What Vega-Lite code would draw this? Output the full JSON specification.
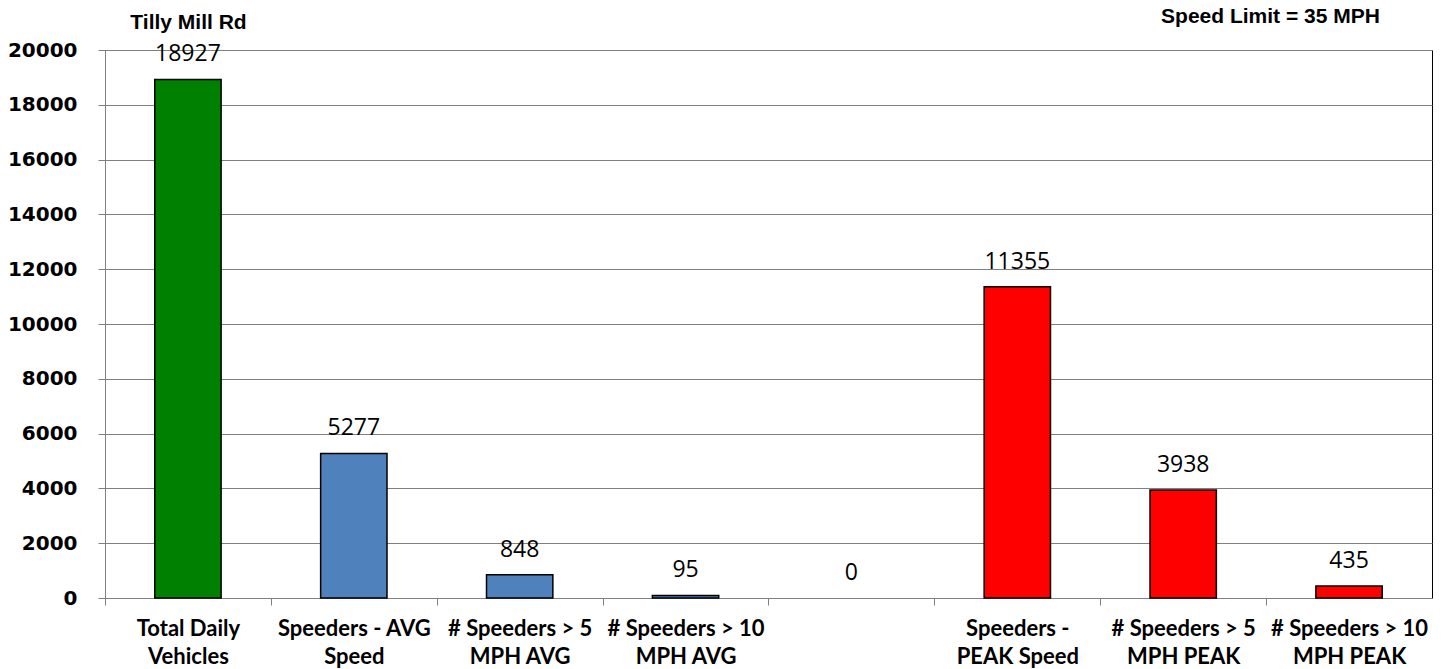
{
  "$schema": "https://vega.github.io/schema/vega-lite/v6.json",
  "autosize": "none",
  "width": 1327,
  "height": 548,
  "padding": {"left": 105, "top": 50, "right": 15, "bottom": 71},
  "background": "white",
  "config": {"view": {"stroke": "#000000", "strokeWidth": 1}},
  "data": {"values": [
    {"cat": "Total Daily|Vehicles", "value": 18927, "grp": "total"},
    {"cat": "Speeders - AVG|Speed", "value": 5277, "grp": "avg"},
    {"cat": "# Speeders > 5|MPH AVG", "value": 848, "grp": "avg"},
    {"cat": "# Speeders > 10|MPH AVG", "value": 95, "grp": "avg"},
    {"cat": "gap", "value": 0, "grp": "none"},
    {"cat": "Speeders -|PEAK Speed", "value": 11355, "grp": "peak"},
    {"cat": "# Speeders > 5|MPH PEAK", "value": 3938, "grp": "peak"},
    {"cat": "# Speeders > 10|MPH PEAK", "value": 435, "grp": "peak"}
  ]},
  "resolve": {"axis": {"y": "independent"}},
  "encoding": {
    "x": {"field": "cat", "type": "nominal", "sort": null,
      "scale": {"paddingInner": 0.6, "paddingOuter": 0.3},
      "axis": {"title": null, "labelAngle": 0,
        "labelExpr": "isString(datum.value) && datum.value != 'gap' ? split(datum.value, '|') : ''",
        "labelFont": "Lato", "labelFontWeight": "bold", "labelFontSize": 22, "labelColor": "#000000",
        "labelLineHeight": 28, "labelPadding": 30, "labelBaseline": "alphabetic",
        "tickOffset": -83, "labelOffset": 83,
        "tickSize": 7, "tickColor": "#808080", "domainColor": "#808080", "grid": false}}
  },
  "layer": [
    {"mark": {"type": "bar", "stroke": "#000000", "strokeWidth": 1.5},
     "encoding": {
       "y": {"field": "value", "type": "quantitative",
         "scale": {"domain": [0, 20000]},
         "axis": {"values": [0,2000,4000,6000,8000,10000,12000,14000,16000,18000,20000],
           "format": "d", "labelFont": "DejaVu Sans", "labelFontWeight": "bold", "labelFontSize": 20,
           "labelColor": "#000000", "labelPadding": 21, "tickSize": 7, "tickColor": "#808080",
           "domainColor": "#808080", "gridColor": "#808080", "gridWidth": 1,
           "title": "Tilly Mill Rd", "titleAngle": 0, "titleX": 83, "titleY": -28,
           "titleAlign": "center", "titleBaseline": "middle", "titleFont": "Liberation Sans",
           "titleFontSize": 21, "titleFontWeight": "bold", "titleColor": "#000000"}},
       "color": {"field": "grp", "type": "nominal", "legend": null,
         "scale": {"domain": ["total", "avg", "none", "peak"], "range": ["#008000", "#4F81BD", "#FFFFFF", "#FF0000"]}},
       "strokeOpacity": {"condition": {"test": "datum.value == 0", "value": 0}, "value": 1}}},
    {"mark": {"type": "text", "baseline": "alphabetic", "dy": -18, "font": "Open Sans", "fontSize": 23, "color": "#000000"},
     "encoding": {
       "y": {"field": "value", "type": "quantitative",
         "axis": {"orient": "right", "labels": false, "ticks": false, "domain": false, "grid": false,
           "title": "Speed Limit = 35 MPH", "titleAngle": 0, "titleX": -162, "titleY": -34,
           "titleAlign": "center", "titleBaseline": "middle", "titleFont": "Liberation Sans",
           "titleFontSize": 21, "titleFontWeight": "bold", "titleColor": "#000000"}},
       "text": {"field": "value", "type": "quantitative", "format": "d"}}}
  ]
}
